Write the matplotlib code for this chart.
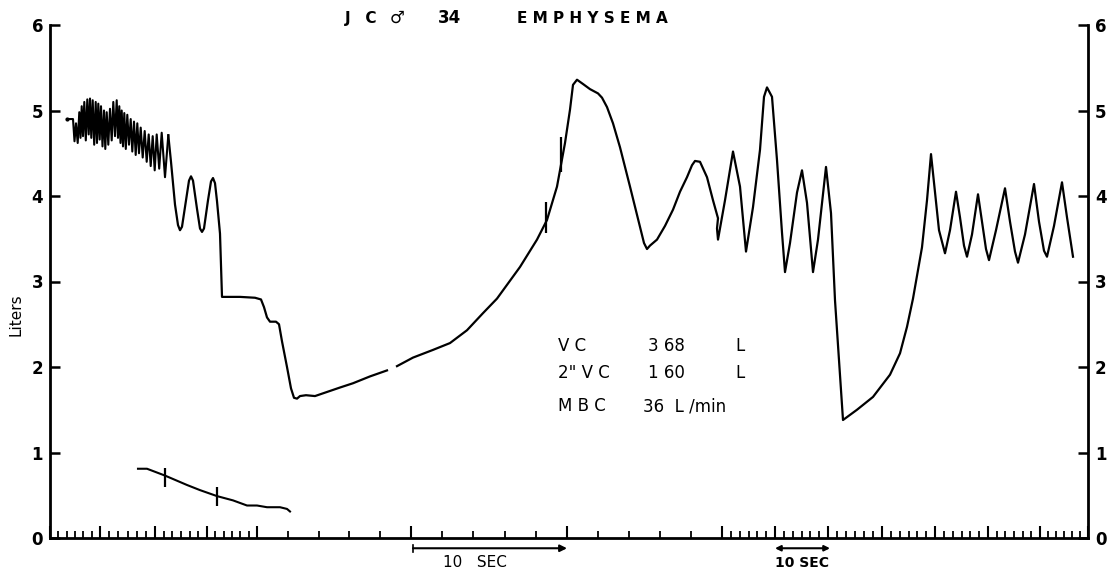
import numpy as np
import matplotlib
matplotlib.use("Agg")
from matplotlib import pyplot as plt

# -----------------------------------------------------------------------------
# Spirogram trace (x = chart distance along the paper, y = litres)
# -----------------------------------------------------------------------------
# start marker + rapid breathing (MBC) section
mbc_x = [17, 23, 24.5,
         26, 27.7, 29.3, 30.5, 31.7, 33, 34.3, 35.8, 37.3, 38.7, 40, 41.3,
         42.7, 44.2, 45.7, 47, 48.3, 49.7, 51, 52.5, 54, 55.3, 56.7, 58.3,
         60, 61.7, 63.3, 65, 66.7, 68, 69.3, 70.5, 71.7, 73, 74.3, 75.8,
         77.3, 79, 80.7, 82.3, 84, 85.7, 87.3, 89, 90.7, 92.7, 94.7, 96.7,
         98.7, 100.7, 102.7, 104.7, 106.7, 109.2, 111.7, 115, 118.3]
mbc_y = [4.90, 4.90, 4.64,
         4.85, 4.62, 4.98, 4.68, 5.05, 4.70, 5.10, 4.65, 5.13, 4.72, 5.14, 4.68,
         5.12, 4.60, 5.10, 4.62, 5.08, 4.66, 5.05, 4.58, 5.00, 4.55, 4.98, 4.60,
         5.02, 4.65, 5.10, 4.70, 5.12, 4.68, 5.05, 4.62, 5.00, 4.58, 4.97, 4.55,
         4.95, 4.60, 4.90, 4.52, 4.87, 4.48, 4.85, 4.50, 4.80, 4.45, 4.76, 4.40,
         4.72, 4.35, 4.70, 4.30, 4.72, 4.32, 4.74, 4.22, 4.71]

# slow breaths, forced expiration and the long inspiration
slow_x = [118.3, 121, 125, 128, 130, 132, 136, 139, 141, 143, 147, 150, 152,
          154, 158, 161, 163, 165, 167, 170, 172, 180, 190, 205, 211, 214,
          217, 220, 226, 229, 232, 237, 241, 244, 247, 250, 256, 265, 275,
          290, 303, 320, 337, np.nan,
          347, 363, 383, 400, 417, 433, 447, 470, 487, 497, 507, 515, 520,
          523, 527, 533, 540, 548, 552, 557, 563, 570, 580, 590, 594, 597,
          600, 607, 615, 623, 630, 637, 642, 645, 650, 657, 663, 668, 667,
          668, 675, 683, 690, 696, 703, 710, 714, 717, 722, 727, 732, 735,
          740, 747, 752, 757, 763, 768, 776, 781, 785, 793, 807, 823, 840,
          850, 857, 863, 872, 877, 881, 885, 889, 895, 900, 906, 910, 914,
          917, 922, 928, 932, 936, 939, 946, 955, 960, 965, 968, 975, 984,
          989, 994, 997, 1004, 1012, 1017, 1023]
slow_y = [4.71, 4.40, 3.90, 3.66, 3.60, 3.64, 3.95, 4.18, 4.23, 4.18, 3.85,
          3.62, 3.58, 3.62, 3.95, 4.17, 4.21, 4.15, 3.94, 3.56, 2.82, 2.82,
          2.82, 2.81, 2.79, 2.70, 2.58, 2.53, 2.53, 2.50, 2.30, 2.00, 1.75,
          1.64, 1.63, 1.66, 1.67, 1.66, 1.70, 1.76, 1.81, 1.89, 1.96, np.nan,
          2.01, 2.11, 2.20, 2.28, 2.43, 2.63, 2.80, 3.17, 3.49, 3.72, 4.11,
          4.62, 5.01, 5.30, 5.36, 5.31, 5.25, 5.20, 5.15, 5.04, 4.85, 4.57,
          4.11, 3.64, 3.45, 3.38, 3.42, 3.49, 3.65, 3.84, 4.05, 4.22, 4.36,
          4.41, 4.40, 4.22, 3.95, 3.74, 3.62, 3.49, 3.95, 4.52, 4.11, 3.35,
          3.87, 4.54, 5.16, 5.27, 5.16, 4.42, 3.57, 3.11, 3.45, 4.04, 4.30,
          3.92, 3.11, 3.49, 4.34, 3.80, 2.78, 1.38, 1.50, 1.65, 1.91, 2.16,
          2.47, 2.80, 3.40, 3.95, 4.49, 4.04, 3.60, 3.33, 3.60, 4.05, 3.75,
          3.42, 3.29, 3.55, 4.02, 3.70, 3.38, 3.25, 3.60, 4.09, 3.70, 3.35,
          3.22, 3.55, 4.14, 3.70, 3.36, 3.29, 3.65, 4.16, 3.75, 3.29]

# timing marks on the trace (x, y from, y to)
mark_x = [496, 511]
mark_lo = [3.57, 4.28]
mark_hi = [3.93, 4.69]

# small trace near the baseline
low_x = [88, 97, 115, 137, 150, 167, 183, 197, 207, 217, 230, 237, 240]
low_y = [0.81, 0.81, 0.73, 0.62, 0.56, 0.49, 0.44, 0.38, 0.38, 0.36, 0.36,
         0.34, 0.31]
low_mark_x = [115, 167]
low_mark_lo = [0.60, 0.37]
low_mark_hi = [0.82, 0.60]

# paper time marks: tall ticks, and how many parts between them
tall_ticks = [0, 50, 105, 157, 207, 361, 517, 672, 725, 778, 832, 885, 938,
              990, 1038]
tick_parts = [6, 6, 6, 6, 5, 5, 5, 6, 6, 6, 6, 6, 6, 6]

results = [("V C", "3 68", "L"), ('2" V C', "1 60", "L"),
           ("M B C", "36  L /min", "")]
result_y = [2.25, 1.93, 1.54]

# -----------------------------------------------------------------------------
fig = plt.figure(figsize=(11.13, 5.74), dpi=100)
ax = fig.add_axes([50 / 1113, 36 / 574, 1038 / 1113, 513 / 574])

ax.plot(mbc_x, mbc_y, color='k', lw=1.5, solid_joinstyle='round')
ax.plot(slow_x, slow_y, color='k', lw=1.6, solid_joinstyle='round')
ax.plot(low_x, low_y, color='k', lw=1.5)
ax.vlines(mark_x, mark_lo, mark_hi, color='k', lw=1.6)
ax.vlines(low_mark_x, low_mark_lo, low_mark_hi, color='k', lw=1.6)
ax.plot([17], [4.90], 'k.', ms=4)

ax.set_xlim(0, 1038)
ax.set_ylim(0, 6)

# spines
ax.spines['top'].set_visible(False)
for s in ['left', 'right', 'bottom']:
    ax.spines[s].set_linewidth(2.0)

# y ticks both sides
ax.set_yticks(range(7))
ax.set_yticklabels([str(i) for i in range(7)])
ax.yaxis.set_ticks_position('both')
ax.tick_params(axis='y', direction='in', length=7, width=1.8,
               labelright=True, labelsize=12, pad=5)
for lab in ax.get_yticklabels():
    lab.set_fontweight('bold')

# x ticks
minor = []
for a, b, n in zip(tall_ticks[:-1], tall_ticks[1:], tick_parts):
    minor += list(np.linspace(a, b, n + 1)[1:-1])
ax.set_xticks(tall_ticks)
ax.set_xticks(minor, minor=True)
ax.set_xticklabels([])
ax.tick_params(axis='x', which='major', direction='in', length=9, width=1.5)
ax.tick_params(axis='x', which='minor', direction='in', length=5, width=1.3)

ax.text(-34, 2.61, 'Liters', rotation=90, ha='center', va='center',
        fontsize=11, clip_on=False)

# title
ax.text(295, 6.08, 'J   C', fontsize=11, fontweight='bold', va='center')
ax.text(347, 6.08, '\u2642', fontsize=12, fontweight='bold', va='center',
        ha='center')
ax.text(388, 6.08, '34', fontsize=12, fontweight='bold', va='center')
ax.text(467, 6.08, 'E M P H Y S E M A', fontsize=11, fontweight='bold',
        va='center')

# results block
for (lab, val, unit), y in zip(results, result_y):
    ax.text(508, y, lab, fontsize=12, va='center')
    ax.text(598 if unit else 593, y, val, fontsize=12, va='center')
    if unit:
        ax.text(685, y, unit, fontsize=12, va='center')

# 10 sec markers
ax.annotate('', xy=(517, -0.12), xytext=(363, -0.12),
            arrowprops=dict(arrowstyle='-|>', lw=1.5, color='k',
                            mutation_scale=10, shrinkA=0, shrinkB=0),
            annotation_clip=False)
ax.plot([363, 363], [-0.08, -0.16], color='k', lw=1.2, clip_on=False)
ax.text(393, -0.29, '10   SEC', fontsize=11, va='center')
ax.annotate('', xy=(780, -0.12), xytext=(725, -0.12),
            arrowprops=dict(arrowstyle='<|-|>', lw=1.5, color='k',
                            mutation_scale=8, shrinkA=0, shrinkB=0),
            annotation_clip=False)
ax.text(752, -0.29, '10 SEC', fontsize=10, fontweight='bold', va='center',
        ha='center')

fig.savefig('out.png', dpi=100)
